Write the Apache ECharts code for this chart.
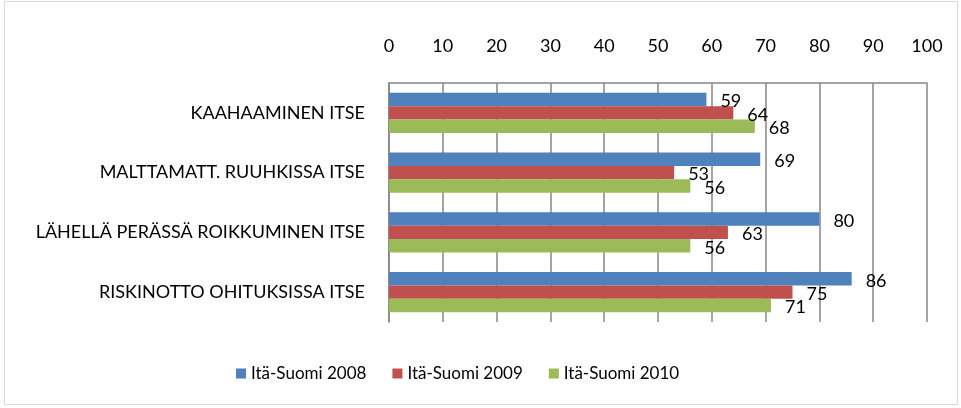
<!DOCTYPE html>
<html>
<head>
<meta charset="utf-8">
<script src="https://cdn.jsdelivr.net/npm/echarts@6/dist/echarts.min.js"></script>
<style>html,body{margin:0;padding:0;background:#fff;}#c{width:961px;height:408px;}</style>
</head>
<body>
<div id="c"></div>
<script>
const categories = ['KAAHAAMINEN ITSE', 'MALTTAMATT. RUUHKISSA ITSE', 'LÄHELLÄ PERÄSSÄ ROIKKUMINEN ITSE', 'RISKINOTTO OHITUKSISSA ITSE'];
const seriesNames = ['Itä-Suomi 2008', 'Itä-Suomi 2009', 'Itä-Suomi 2010'];
const values2008 = [59, 69, 80, 86];
const values2009 = [64, 53, 63, 75];
const values2010 = [68, 56, 56, 71];
const colors = ['#4F81BD', '#C0504D', '#9BBB59'];
const font = 'Lato, Calibri, "Open Sans", sans-serif';

const chart = echarts.init(document.getElementById('c'), null, {renderer: 'canvas'});
const data = [values2008, values2009, values2010];
chart.setOption({
  animation: false,
  textStyle: {fontFamily: font},
  graphic: [{
    type: 'rect', shape: {x: 4.5, y: 1.5, width: 953, height: 403},
    style: {fill: 'none', stroke: '#D9D9D9', lineWidth: 1}, silent: true
  }],
  grid: {left: 389, right: 34, top: 83, bottom: 86, containLabel: false},
  legend: {
    bottom: 21, left: 231, itemWidth: 10, itemHeight: 10, itemGap: 26,
    icon: 'rect',
    textStyle: {fontSize: 17, color: '#000', fontFamily: font},
    data: seriesNames
  },
  xAxis: {
    type: 'value', position: 'top', min: 0, max: 100, interval: 10,
    axisLine: {show: true, lineStyle: {color: '#868686', width: 1.5}},
    axisTick: {show: false},
    axisLabel: {fontSize: 18, color: '#000', margin: 28, fontFamily: font},
    splitLine: {show: true, lineStyle: {color: '#868686', width: 1.5}}
  },
  yAxis: {
    type: 'category', data: categories, inverse: true,
    axisLine: {show: true, lineStyle: {color: '#868686', width: 1.5}},
    axisTick: {show: false},
    axisLabel: {fontSize: 18, color: '#000', margin: 24, fontFamily: font}
  },
  series: seriesNames.map((n, i) => ({
    name: n, type: 'bar', data: data[i],
    barCategoryGap: '33%', barGap: '0%',
    itemStyle: {color: colors[i]},
    label: {show: true, position: 'right', distance: 14, offset: [0, 2],
      fontSize: 18, color: '#000', fontFamily: font}
  }))
});
</script>
</body>
</html>
